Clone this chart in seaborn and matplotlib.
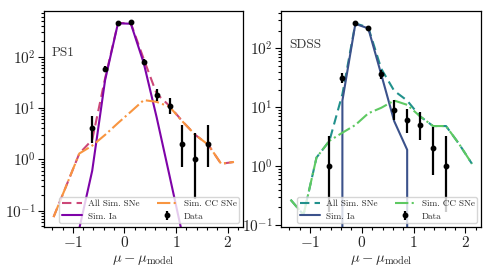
import numpy as np
import pandas as pd
import matplotlib
matplotlib.use("Agg")
import matplotlib.pyplot as plt
import seaborn as sns
from matplotlib.ticker import MultipleLocator

# ---------------- data ----------------
bins = [-1.375, -1.125, -0.875, -0.625, -0.375, -0.125, 0.125, 0.375,
        0.625, 0.875, 1.125, 1.375, 1.625, 1.875, 2.125]

ps1_all = [0.075, 0.31, 1.3, 2.4, 38, 455, 450, 90, 19, 11, 5.5, 3.0, 1.93, 0.82, 0.89]
ps1_ia = [0, 0, 0.045, 0.6, 35, 450, 440, 75, 6.6, 0.48, 0.034, 0, 0, 0, 0]
ps1_cc = [0.075, 0.31, 1.3, 1.85, 3.0, 5.1, 8.5, 14.3, 13.2, 10.6, 5.5, 3.0, 1.93, 0.82, 0.89]

ps1_dx = [-0.625, -0.375, -0.125, 0.125, 0.375, 0.625, 0.875, 1.125, 1.375, 1.625]
ps1_dy = [4, 58, 460, 480, 79, 18, 11, 2, 1, 2]
ps1_lo = [1.9, 7.5, 21, 22, 8.8, 4.2, 3.3, 1.3, 0.83, 1.3]
ps1_hi = [3.1, 8.6, 22, 23, 9.9, 5.3, 4.4, 2.6, 2.3, 2.6]

sdss_all = [0.27, 0.15, 1.4, 2.7, 16.7, 265, 226, 45, 19, 13, 7.0, 4.8, 4.8, 2.4, 1.1]
sdss_ia = [0, 0, 0, 0, 13, 260, 218, 36, 5.8, 1.9, 0, 0, 0, 0, 0]
sdss_cc = [0.27, 0.15, 1.4, 2.7, 3.7, 5.0, 7.9, 9.8, 13, 11, 7.0, 4.8, 4.8, 2.4, 1.1]

sdss_dx = [-0.625, -0.375, -0.125, 0.125, 0.375, 0.625, 0.875, 1.125, 1.375, 1.625]
sdss_dy = [1, 31, 272, 221, 36, 9, 6, 5, 2, 1]
sdss_lo = [0.83, 5.5, 16.5, 14.9, 5.9, 2.9, 2.4, 2.2, 1.3, 0.83]
sdss_hi = [2.3, 6.6, 17.5, 15.9, 7.0, 4.1, 3.5, 3.4, 2.6, 2.3]

labels = ["All Sim. SNe", "Sim. Ia", "Sim. CC SNe", "Data"]
panel_names = ["PS1", "SDSS"]
xlabel = r"$\mu-\mu_{\rm model}$"

# ---------------- style ----------------
sns.set_style("ticks")
plt.rcParams["font.family"] = "serif"
plt.rcParams["font.serif"] = ["cmr10", "DejaVu Serif"]
plt.rcParams["mathtext.fontset"] = "cm"
plt.rcParams["axes.formatter.use_mathtext"] = True
plt.rcParams["axes.unicode_minus"] = True

plasma = matplotlib.colormaps["plasma"]
viridis = matplotlib.colormaps["viridis"]

fig = plt.figure(figsize=(4.91, 2.74), dpi=100)
axL = fig.add_axes([44 / 491, 47 / 274, 199 / 491, 216 / 274])
axR = fig.add_axes([281 / 491, 47 / 274, 200 / 491, 216 / 274])

panels = [
    (axL, ps1_all, ps1_ia, ps1_cc, ps1_dx, ps1_dy, ps1_lo, ps1_hi, plasma,
     (0.048, 780), (0.04, 0.807)),
    (axR, sdss_all, sdss_ia, sdss_cc, sdss_dx, sdss_dy, sdss_lo, sdss_hi, viridis,
     (0.093, 430), (0.04, 0.841)),
]

for i, (ax, a, ia, cc, dx, dy, lo, hi, cmap, ylim, tpos) in enumerate(panels):
    df = pd.DataFrame({"x": bins, "all": a, "ia": ia, "cc": cc})
    sns.lineplot(data=df, x="x", y="all", ax=ax, color=cmap(0.5), lw=1.5,
                 linestyle=(0, (4.5, 2.5)), estimator=None, sort=False,
                 label=labels[0])
    sns.lineplot(data=df, x="x", y="ia", ax=ax, color=cmap(0.25), lw=1.5,
                 estimator=None, sort=False, label=labels[1])
    sns.lineplot(data=df, x="x", y="cc", ax=ax, color=cmap(0.75), lw=1.5,
                 linestyle="-.", estimator=None, sort=False, label=labels[2])
    ax.errorbar(dx, dy, yerr=[lo, hi], fmt="o", color="black", ms=3.2,
                elinewidth=1.6, capsize=0, label=labels[3], zorder=5)
    ax.set_yscale("log")
    ax.set_ylim(*ylim)
    ax.set_xlim(-1.56, 2.3)
    ax.set_ylabel("")
    ax.set_xlabel(xlabel, fontsize=10.5, labelpad=2)
    ax.xaxis.set_major_locator(MultipleLocator(1))
    ax.xaxis.set_minor_locator(MultipleLocator(0.2))
    ax.tick_params(which="major", length=4, width=0.8, labelsize=11, pad=2,
                   color="black")
    ax.tick_params(which="minor", length=2.5, width=0.8, color="black")
    for s in ax.spines.values():
        s.set_visible(True)
        s.set_linewidth(0.9)
        s.set_color("black")
    ax.text(tpos[0], tpos[1], panel_names[i], transform=ax.transAxes,
            fontsize=9.5, va="center", ha="left", color="#333333")
    h, l = ax.get_legend_handles_labels()
    ax.legend(h, l, loc="lower right", ncol=2, fontsize=6.6, frameon=True,
              borderaxespad=0.45, columnspacing=1.9, handlelength=2.2,
              handletextpad=0.7, labelspacing=0.45, borderpad=0.25)

fig.savefig("out.png", dpi=100)
